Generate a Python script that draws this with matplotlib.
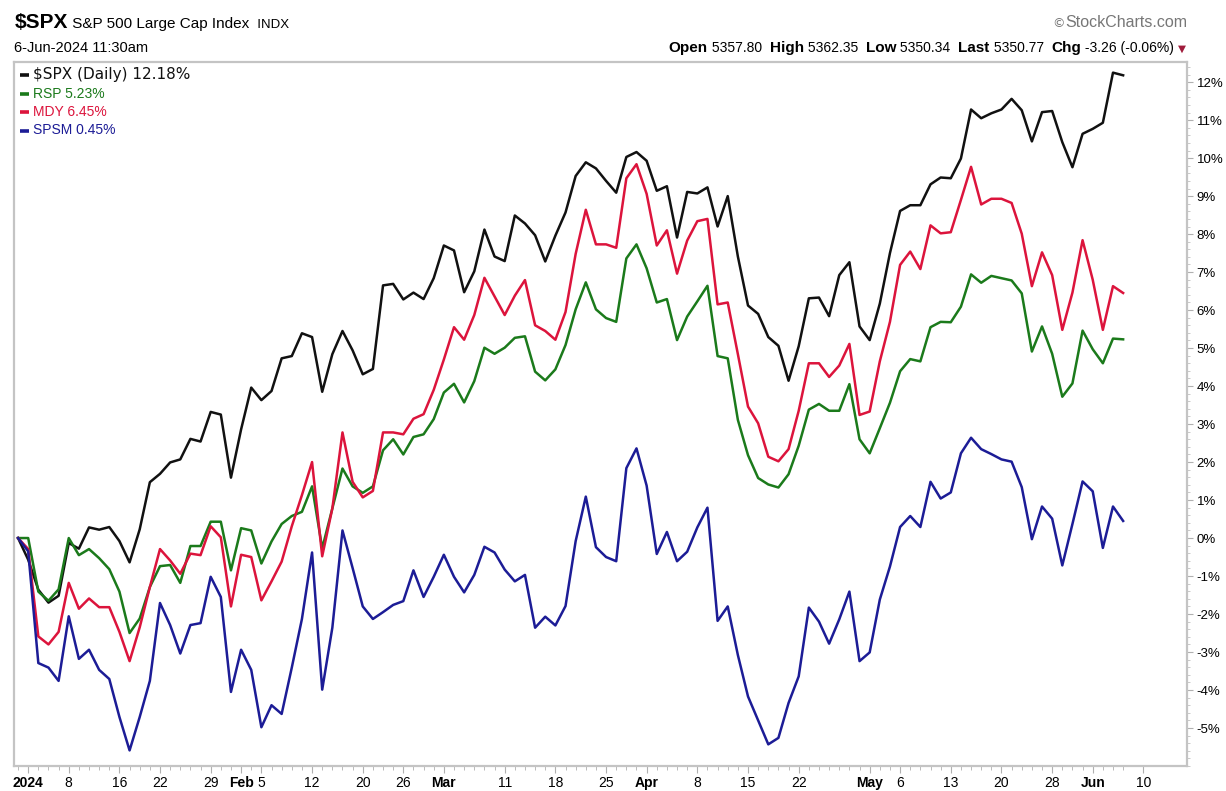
import matplotlib
matplotlib.use('Agg')
import matplotlib.pyplot as plt
import numpy as np

# % change since 29-Dec-2023, one value per trading day (index 0 = Dec 29)
spx = [0, -0.57, -1.36, -1.70, -1.52, -0.13, -0.28, 0.28, 0.22, 0.29,
       -0.08, -0.64, 0.23, 1.47, 1.69, 1.99, 2.07, 2.61, 2.54, 3.32,
       3.25, 1.59, 2.86, 3.96, 3.63, 3.87, 4.73, 4.79, 5.39, 5.29,
       3.85, 4.84, 5.45, 4.94, 4.31, 4.45, 6.65, 6.69, 6.28, 6.46,
       6.29, 6.84, 7.70, 7.57, 6.47, 7.02, 8.12, 7.41, 7.29, 8.49,
       8.28, 7.97, 7.28, 7.96, 8.57, 9.53, 9.89, 9.73, 9.40, 9.09,
       10.03, 10.16, 9.93, 9.14, 9.26, 7.91, 9.11, 9.07, 9.23, 8.20,
       9.00, 7.41, 6.12, 5.90, 5.29, 5.06, 4.14, 5.05, 6.31, 6.33,
       5.84, 6.92, 7.26, 5.57, 5.21, 6.17, 7.50, 8.61, 8.76, 8.76,
       9.31, 9.49, 9.47, 9.99, 11.28, 11.05, 11.18, 11.28, 11.56, 11.26,
       10.44, 11.21, 11.24, 10.42, 9.76, 10.64, 10.77, 10.93, 12.25, 12.18]
rsp = [0, 0, -1.41, -1.65, -1.35, 0.0, -0.45, -0.29, -0.53, -0.82,
       -1.41, -2.50, -2.12, -1.29, -0.74, -0.71, -1.18, -0.21, -0.21, 0.43,
       0.43, -0.85, 0.26, 0.20, -0.67, -0.09, 0.37, 0.58, 0.69, 1.36,
       -0.27, 0.78, 1.83, 1.36, 1.19, 1.36, 2.31, 2.60, 2.20, 2.66,
       2.73, 3.13, 3.83, 4.06, 3.57, 4.13, 5.01, 4.85, 5.01, 5.27,
       5.31, 4.38, 4.15, 4.44, 5.08, 6.02, 6.73, 6.02, 5.79, 5.69,
       7.36, 7.73, 7.10, 6.20, 6.29, 5.21, 5.83, 6.23, 6.64, 4.79,
       4.73, 3.11, 2.18, 1.58, 1.41, 1.33, 1.68, 2.43, 3.38, 3.53,
       3.35, 3.35, 4.05, 2.60, 2.23, 2.89, 3.56, 4.39, 4.71, 4.65,
       5.55, 5.69, 5.68, 6.09, 6.94, 6.72, 6.90, 6.84, 6.78, 6.44,
       4.91, 5.57, 4.85, 3.72, 4.07, 5.46, 4.97, 4.60, 5.25, 5.23]
mdy = [0, -0.29, -2.59, -2.80, -2.47, -1.18, -1.86, -1.59, -1.82, -1.82,
       -2.47, -3.24, -2.35, -1.29, -0.29, -0.59, -0.94, -0.41, -0.45, 0.31,
       0.02, -1.80, -0.44, -0.50, -1.64, -1.14, -0.62, 0.31, 1.13, 2.00,
       -0.48, 0.78, 2.78, 1.48, 1.07, 1.24, 2.78, 2.78, 2.73, 3.14,
       3.26, 3.90, 4.70, 5.55, 5.22, 5.87, 6.85, 6.36, 5.87, 6.38,
       6.79, 5.60, 5.45, 5.22, 5.95, 7.48, 8.64, 7.73, 7.73, 7.64,
       9.47, 9.84, 9.06, 7.70, 8.10, 6.96, 7.83, 8.34, 8.40, 6.15,
       6.20, 4.84, 3.46, 3.02, 2.14, 2.02, 2.34, 3.35, 4.60, 4.60,
       4.24, 4.54, 5.11, 3.24, 3.33, 4.65, 5.69, 7.19, 7.54, 7.08,
       8.23, 8.02, 8.05, 8.90, 9.77, 8.78, 8.93, 8.93, 8.82, 8.01,
       6.63, 7.52, 6.92, 5.48, 6.46, 7.84, 6.80, 5.48, 6.63, 6.45]
spsm = [0, -0.35, -3.29, -3.41, -3.76, -2.06, -3.18, -2.94, -3.47, -3.71,
        -4.71, -5.59, -4.71, -3.76, -1.71, -2.29, -3.04, -2.29, -2.24, -1.02,
        -1.55, -4.05, -2.94, -3.47, -4.98, -4.40, -4.63, -3.41, -2.13, -0.38,
        -3.99, -2.36, 0.20, -0.79, -1.80, -2.13, -1.95, -1.76, -1.66, -0.85,
        -1.55, -1.02, -0.44, -1.02, -1.43, -0.97, -0.23, -0.38, -0.83, -1.14,
        -0.97, -2.36, -2.07, -2.30, -1.79, -0.08, 1.09, -0.24, -0.50, -0.61,
        1.84, 2.36, 1.38, -0.42, 0.16, -0.61, -0.36, 0.28, 0.80, -2.18,
        -1.80, -3.08, -4.17, -4.80, -5.43, -5.26, -4.34, -3.64, -1.83, -2.20,
        -2.78, -2.14, -1.41, -3.24, -3.01, -1.62, -0.75, 0.29, 0.58, 0.29,
        1.48, 1.04, 1.20, 2.23, 2.64, 2.34, 2.21, 2.07, 2.01, 1.34,
        -0.03, 0.83, 0.51, -0.72, 0.37, 1.49, 1.23, -0.26, 0.83, 0.45]

names = ['$SPX (Daily) 12.18%', 'RSP 5.23%', 'MDY 6.45%', 'SPSM 0.45%']
colors = ['#111111', '#1b7a1b', '#dc143c', '#1c1c96']

tick_idx = [1, 5, 10, 14, 19, 22, 24, 29, 34, 38, 42, 48, 53, 58, 62,
            67, 72, 77, 84, 87, 92, 97, 102, 106, 111]
tick_lbl = ['2024', '8', '16', '22', '29', 'Feb', '5', '12', '20', '26', 'Mar',
            '11', '18', '25', 'Apr', '8', '15', '22', 'May', '6', '13', '20',
            '28', 'Jun', '10']
bold_lbl = ['2024', 'Feb', 'Mar', 'Apr', 'May', 'Jun']
pct_ticks = list(range(-5, 13))

SANS = ['Liberation Sans', 'DejaVu Sans']
W, H = 1226, 791

fig = plt.figure(figsize=(W / 100, H / 100), dpi=100)
ax = fig.add_axes([14 / W, 1 - 766 / H, (1187 - 14) / W, (766 - 62) / H])

x = np.arange(len(spx))
for ys, c in zip([spx, rsp, mdy, spsm], colors):
    ax.plot(x, ys, color=c, lw=1.8, solid_joinstyle='round')

ax.set_xlim(-0.4, 115.3)
ax.set_ylim(-6.0, 12.53)

for s in ax.spines.values():
    s.set_color('#c4c4c4')
    s.set_linewidth(1.6)

ax.set_xticks(tick_idx)
ax.set_xticklabels(tick_lbl)
ax.set_xticks(x, minor=True)
for t in ax.get_xticklabels():
    t.set_family(SANS)
    t.set_fontsize(10)
    if t.get_text() in bold_lbl:
        t.set_fontweight('bold')
ax.tick_params(axis='x', which='major', length=5, color='#b0b0b0', pad=2)
ax.tick_params(axis='x', which='minor', length=3, color='#b0b0b0')

ax.yaxis.tick_right()
ax.set_yticks(pct_ticks)
ax.set_yticklabels(['%d%%' % v for v in pct_ticks], family=SANS, fontsize=9.5)
ax.set_yticks(np.arange(-6, 12.6, 0.2), minor=True)
ax.tick_params(axis='y', which='major', length=4, color='#b0b0b0', pad=3)
ax.tick_params(axis='y', which='minor', length=2, color='#c0c0c0')

# legend in the top-left corner
for k, (name, c) in enumerate(zip(names, colors)):
    yy = 1 - (75 + 18.5 * k - 62) / (766 - 62)
    ax.plot([0.005, 0.0125], [yy, yy], transform=ax.transAxes, color=c, lw=2.6,
            solid_capstyle='butt')
    ax.text(0.0165, yy, name, transform=ax.transAxes, color=c, va='center',
            family='DejaVu Sans' if k == 0 else SANS,
            fontsize=11 if k == 0 else 10)


def px(xp, yp):
    return xp / W, 1 - yp / H


def run(x0, y0, pieces, right=False):
    r = fig.canvas.get_renderer()
    arts = []
    for s, kw in pieces:
        arts.append(fig.text(0, 0, s, va='baseline', **kw))
    widths = [a.get_window_extent(r).width for a in arts]
    total = sum(widths)
    cx = x0 - total if right else x0
    for a, w in zip(arts, widths):
        a.set_position(px(cx, y0))
        cx += w


run(15, 28, [('$SPX', dict(family=SANS, weight='bold', fontsize=15)),
             (' S&P 500 Large Cap Index', dict(family=SANS, fontsize=11)),
             ('  INDX', dict(family=SANS, fontsize=9.5))])
run(14, 52, [('6-Jun-2024 11:30am', dict(family=SANS, fontsize=10.5))])
run(1187, 27, [('\u00a9', dict(family='DejaVu Sans', fontsize=9, color='#777777')),
               ('StockCharts.com', dict(family=SANS, fontsize=11.5, color='#777777'))],
    right=True)
hdr = []
for lab, val in [('Open', '5357.80'), ('High', '5362.35'), ('Low', '5350.34'),
                 ('Last', '5350.77'), ('Chg', '-3.26 (-0.06%)')]:
    hdr.append((lab, dict(family=SANS, weight='bold', fontsize=11)))
    hdr.append((' ' + val + '  ', dict(family=SANS, fontsize=10)))
hdr[-1] = (' -3.26 (-0.06%) ', dict(family=SANS, fontsize=10))
hdr.append(('\u25bc', dict(family='DejaVu Sans', fontsize=7.5, color='#a01c3c')))
run(1186, 52, hdr, right=True)

fig.savefig('out.png', dpi=100, facecolor='white')
